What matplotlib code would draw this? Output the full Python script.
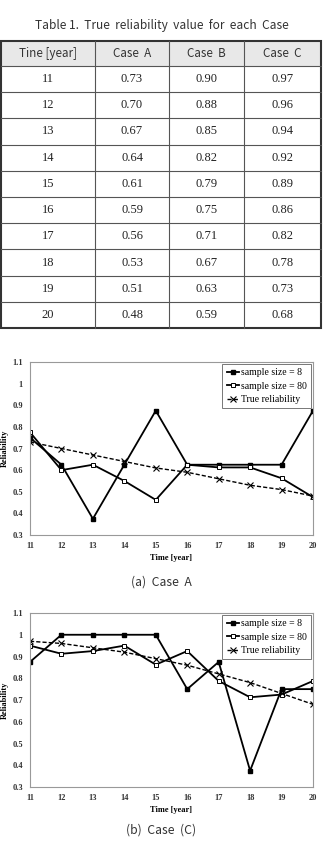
import matplotlib
matplotlib.use("Agg")
import matplotlib.pyplot as plt
from matplotlib.patches import Rectangle

# ---------- DATA ----------
years = [11, 12, 13, 14, 15, 16, 17, 18, 19, 20]
true_a = [0.73, 0.70, 0.67, 0.64, 0.61, 0.59, 0.56, 0.53, 0.51, 0.48]
true_b = [0.90, 0.88, 0.85, 0.82, 0.79, 0.75, 0.71, 0.67, 0.63, 0.59]
true_c = [0.97, 0.96, 0.94, 0.92, 0.89, 0.86, 0.82, 0.78, 0.73, 0.68]

a_n8 = [0.75, 0.625, 0.375, 0.625, 0.875, 0.625, 0.625, 0.625, 0.625, 0.875]
a_n80 = [0.775, 0.60, 0.625, 0.55, 0.4625, 0.625, 0.6125, 0.6125, 0.5625, 0.475]

c_n8 = [0.875, 1.0, 1.0, 1.0, 1.0, 0.75, 0.875, 0.375, 0.75, 0.75]
c_n80 = [0.95, 0.9125, 0.925, 0.95, 0.8625, 0.925, 0.7875, 0.7125, 0.725, 0.7875]

header = ["Tine [year]", "Case  A", "Case  B", "Case  C"]
table_title = "Table 1.  True  reliability  value  for  each  Case"
y_ticks = [0.3, 0.4, 0.5, 0.6, 0.7, 0.8, 0.9, 1.0, 1.1]
y_labels = ["0.3", "0.4", "0.5", "0.6", "0.7", "0.8", "0.9", "1", "1.1"]
# --------------------------

W, H = 323, 846
fig = plt.figure(figsize=(W / 100, H / 100), dpi=100)

# overlay in pixel coords for the table and captions
ov = fig.add_axes([0, 0, 1, 1])
ov.set_xlim(0, W)
ov.set_ylim(H, 0)
ov.axis("off")

sans = ["Noto Sans CJK KR", "DejaVu Sans"]
serif = "Liberation Serif"

ov.text(W / 2, 25, table_title, ha="center", va="center", fontsize=8.6,
        family=sans, color="#333333")

col_x = [1, 95, 169, 244, 321]
top, head_h, row_h = 41, 25, 26.2
bottom = top + head_h + row_h * len(years)

ov.add_patch(Rectangle((col_x[0], top), col_x[-1] - col_x[0], head_h,
                       facecolor="#e8e8e8", edgecolor="none"))
for x in col_x[1:-1]:
    ov.plot([x, x], [top, bottom], color="#555555", lw=0.8)
for i in range(1, len(years)):
    y = top + head_h + i * row_h
    ov.plot([col_x[0], col_x[-1]], [y, y], color="#555555", lw=0.8)
ov.plot([col_x[0], col_x[-1]], [top + head_h] * 2, color="#555555", lw=0.8)
ov.add_patch(Rectangle((col_x[0], top), col_x[-1] - col_x[0], bottom - top,
                       facecolor="none", edgecolor="#333333", lw=1.5))

for j, h in enumerate(header):
    cx = (col_x[j] + col_x[j + 1]) / 2
    ov.text(cx, top + head_h / 2, h, ha="center", va="center", fontsize=8.4,
            family=sans, color="#333333")

for i, yr in enumerate(years):
    cy = top + head_h + (i + 0.5) * row_h
    vals = [str(yr), f"{true_a[i]:.2f}", f"{true_b[i]:.2f}", f"{true_c[i]:.2f}"]
    for j, v in enumerate(vals):
        cx = (col_x[j] + col_x[j + 1]) / 2
        ov.text(cx, cy, v, ha="center", va="center", fontsize=9,
                family=serif, color="#222222")


def draw_chart(rect, n8, n80, true_vals):
    ax = fig.add_axes(rect)
    ax.plot(years, n8, color="black", lw=1.3, marker="s", ms=3.5,
            mfc="black", mec="black", label="sample size = 8")
    ax.plot(years, n80, color="black", lw=1.3, marker="s", ms=3.5,
            mfc="white", mec="black", mew=0.7, label="sample size = 80")
    ax.plot(years, true_vals, color="black", lw=1.0, ls=(0, (3, 1.5)),
            marker="x", ms=4, mew=0.8, label="True reliability")
    ax.set_xlim(11, 20)
    ax.set_ylim(0.3, 1.1)
    ax.set_xticks(years)
    ax.set_xticklabels([str(y) for y in years], family=serif,
                       fontweight="bold", fontsize=6)
    ax.set_yticks(y_ticks)
    ax.set_yticklabels(y_labels, family=serif, fontweight="bold", fontsize=6)
    ax.tick_params(length=0, pad=5, colors="#333333")
    for s in ax.spines.values():
        s.set_color("#999999")
        s.set_linewidth(0.8)
    ax.set_xlabel("Time [year]", family=serif, fontweight="bold",
                  fontsize=6, labelpad=3)
    ax.set_ylabel("Reliability", family=serif, fontweight="bold", fontsize=6)
    ax.yaxis.set_label_coords(-0.075, 0.5)
    leg = ax.legend(loc="upper right", prop={"family": serif, "size": 7},
                    handlelength=1.3, handletextpad=0.15, borderpad=0.45,
                    labelspacing=0.45, fancybox=False, framealpha=1,
                    edgecolor="#777777", borderaxespad=0.2)
    leg.get_frame().set_linewidth(0.7)
    return ax


draw_chart([30 / W, 1 - 535 / H, 283 / W, 173 / H], a_n8, a_n80, true_a)
draw_chart([30 / W, 1 - 787 / H, 283 / W, 174 / H], c_n8, c_n80, true_c)

ov.text(W / 2, 582, "(a)  Case  A", ha="center", va="center", fontsize=8.8,
        family=sans, color="#333333")
ov.text(W / 2, 830, "(b)  Case  (C)", ha="center", va="center", fontsize=8.8,
        family=sans, color="#333333")

fig.savefig("out.png", dpi=100)
